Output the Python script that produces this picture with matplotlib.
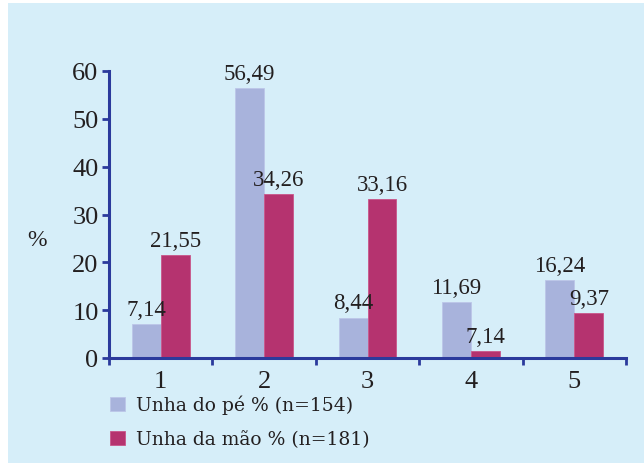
import numpy as np
import matplotlib.pyplot as plt
from matplotlib.patches import Rectangle

# dados
categorias = ['1', '2', '3', '4', '5']
pe = [7.14, 56.49, 8.44, 11.69, 16.24]
mao = [21.55, 34.26, 33.16, 1.5, 9.37]
rotulos_pe = ['7,14', '56,49', '8,44', '11,69', '16,24']
rotulos_mao = ['21,55', '34,26', '33,16', '7,14', '9,37']
legenda = ['Unha do pé % (n=154)', 'Unha da mão % (n=181)']

cor_fundo = '#d6eef9'
cor_pe = '#a8b3dc'
cor_mao = '#b5336f'
cor_eixo = '#2b3a9c'
cor_texto = '#231f20'

plt.rcParams['font.family'] = ['Liberation Serif', 'DejaVu Serif']

fig = plt.figure(figsize=(6.44, 4.64), dpi=100)
fig.patches.append(Rectangle((8 / 644, 0), 1, 1 - 4 / 464, transform=fig.transFigure,
                             facecolor=cor_fundo, edgecolor='none', zorder=-10))

ax = fig.add_axes([109 / 644, 1 - 359 / 464, (626 - 109) / 644, (359 - 72) / 464])
ax.set_facecolor('none')

x = np.arange(len(categorias))
w = 0.28
b1 = ax.bar(x - w / 2, pe, w, color=cor_pe, edgecolor='#bcc6e8', linewidth=0.6, label=legenda[0])
b2 = ax.bar(x + w / 2, mao, w, color=cor_mao, edgecolor='#c9558a', linewidth=0.6, label=legenda[1])

for barras, rot in ((b1, rotulos_pe), (b2, rotulos_mao)):
    for r, t in zip(barras, rot):
        ax.annotate(t, (r.get_x() + r.get_width() / 2, r.get_height()),
                    xytext=(0, 3), textcoords='offset points', ha='center', va='bottom',
                    fontsize=16.5, color=cor_texto)

ax.set_xlim(-0.5, len(categorias) - 0.5)
ax.set_ylim(0, 60)
ax.set_yticks(range(0, 61, 10))
ax.set_xticks(x)
ax.set_xticklabels(categorias)
ax.set_xticks(np.arange(-0.5, len(categorias), 1), minor=True)

for s in ['top', 'right']:
    ax.spines[s].set_visible(False)
for s in ['left', 'bottom']:
    ax.spines[s].set_color(cor_eixo)
    ax.spines[s].set_linewidth(2.2)

ax.tick_params(axis='y', direction='out', length=5, width=2, color=cor_eixo,
               labelsize=19, labelcolor=cor_texto, pad=2.5)
ax.tick_params(axis='x', which='major', length=0, labelsize=19, labelcolor=cor_texto, pad=9)
ax.tick_params(axis='x', which='minor', direction='out', length=5, width=2, color=cor_eixo)

fig.text(37 / 644, 1 - 240 / 464, '%', fontsize=17, color=cor_texto, ha='center', va='center')

ax.legend(loc='upper left', bbox_to_anchor=(110 / 644, 1 - 396 / 464), bbox_transform=fig.transFigure,
          frameon=False, borderpad=0, borderaxespad=0, labelcolor=cor_texto,
          prop={'family': 'DejaVu Serif', 'size': 13.5},
          handlelength=0.8, handleheight=0.8, labelspacing=0.85, handletextpad=0.6)

fig.savefig('out.png', dpi=100)
